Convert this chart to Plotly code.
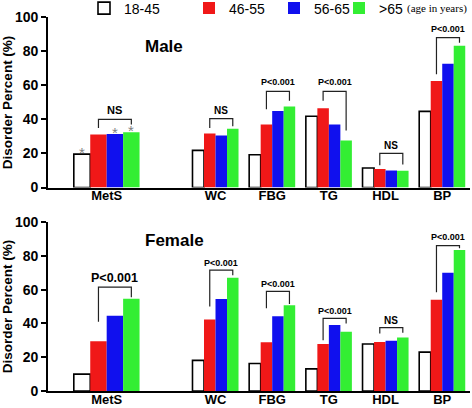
import plotly.graph_objects as go

# ---------------- data ----------------
categories = ["MetS", "WC", "FBG", "TG", "HDL", "BP"]
age_groups = ["18-45", "46-55", "56-65", ">65"]

male_18_45 = [19.6, 21.8, 19.2, 41.9, 11.5, 44.7]
male_46_55 = [31.2, 31.8, 37.0, 46.5, 10.9, 62.5]
male_56_65 = [31.4, 30.6, 44.9, 37.0, 10.0, 72.7]
male_gt65 = [32.5, 34.5, 47.6, 27.6, 9.8, 83.3]

female_18_45 = [10.0, 18.1, 16.3, 13.1, 27.8, 23.0]
female_46_55 = [29.4, 42.3, 28.8, 27.8, 29.0, 54.0]
female_56_65 = [44.5, 54.5, 44.3, 39.1, 29.8, 70.0]
female_gt65 = [54.6, 67.0, 50.7, 35.1, 31.6, 83.5]

male_sig = ["NS", "NS", "P<0.001", "P<0.001", "NS", "P<0.001"]
female_sig = ["P<0.001", "P<0.001", "P<0.001", "P<0.001", "NS", "P<0.001"]

# bracket geometry (top, left leg end, right leg end, label y) in % units
male_brackets = [(40, 35, 37, 45.5), (40.5, 35, 36, 45), (56.5, 46, 51, 62),
                 (56.5, 51, 33.5, 62), (20, 13, 13.5, 24.5), (88, 66.5, 85, 93)]
female_brackets = [(61.5, 41, 55.5, 67), (71.5, 50, 68.5, 76), (59, 49, 51.5, 63.5),
                   (43, 30, 40, 47.5), (37.5, 34, 34.5, 42), (86, 58.5, 84.5, 91)]

# ---------------- style ----------------
colors = ["#ffffff", "#f01818", "#1010ee", "#33ee33"]
cat_pos = [0, 1.92, 2.92, 3.92, 4.92, 5.92]
bar_w = [0.29, 0.203, 0.203, 0.203, 0.203, 0.203]
legend_x_px = [84, 189, 274, 339]
FONT = "Liberation Sans, Arial, sans-serif"

W, H = 472, 408
x_dom = [48.3 / W, 470 / W]
top_dom = [1 - 187.5 / H, 1 - 17.3 / H]
bot_dom = [1 - 391 / H, 1 - 222 / H]

fig = go.Figure()
legend_ids = ["legend", "legend2", "legend3", "legend4"]

panels = [
    ([male_18_45, male_46_55, male_56_65, male_gt65], "x", "y", True),
    ([female_18_45, female_46_55, female_56_65, female_gt65], "x2", "y2", False),
]
for series, xa, ya, show in panels:
    for i, (vals, name, col) in enumerate(zip(series, age_groups, colors)):
        fig.add_trace(go.Bar(
            x=cat_pos, y=vals, width=bar_w,
            offset=[(i - 2) * w for w in bar_w],
            name=name, marker_color=col,
            marker_line_color="#000000" if i == 0 else col,
            marker_line_width=1.6 if i == 0 else 0,
            xaxis=xa, yaxis=ya, showlegend=show, legendgroup=name,
            legend=legend_ids[i],
        ))

shapes = []
annotations = []


def add_brackets(sig, brackets, xref, yref, small_sizes):
    for k, (lab, (top, l_end, r_end, ty)) in enumerate(zip(sig, brackets)):
        w = bar_w[k]
        xl = cat_pos[k] - w / 2
        xr = cat_pos[k] + 1.5 * w
        shapes.append(dict(type="path", xref=xref, yref=yref,
                           path=f"M {xl} {l_end} L {xl} {top} L {xr} {top} L {xr} {r_end}",
                           line=dict(color="#222222", width=1.2)))
        annotations.append(dict(x=(xl + xr) / 2, y=ty, xref=xref, yref=yref,
                                text=f"<b>{lab}</b>", showarrow=False,
                                font=dict(family=FONT, size=small_sizes[k], color="#000"),
                                yanchor="middle"))


add_brackets(male_sig, male_brackets, "x", "y", [11, 10, 9, 9, 10, 9])
add_brackets(female_sig, female_brackets, "x2", "y2", [12.5, 9, 9, 9, 10, 9])

# asterisks on male MetS
for i in [0, 2, 3]:
    series = [male_18_45, male_46_55, male_56_65, male_gt65][i]
    annotations.append(dict(x=cat_pos[0] + (i - 1.5) * bar_w[0], y=series[0],
                            xref="x", yref="y", text="*", showarrow=False,
                            yanchor="bottom", yshift=-9,
                            font=dict(family=FONT, size=15, color="#808080")))

# panel titles
annotations.append(dict(x=164 / W, y=1 - 35 / H, xref="paper", yref="paper",
                        text="<b>Male</b>", showarrow=False,
                        font=dict(family=FONT, size=17, color="#000")))
annotations.append(dict(x=174 / W, y=1 - 240 / H, xref="paper", yref="paper",
                        text="<b>Female</b>", showarrow=False,
                        font=dict(family=FONT, size=17, color="#000")))
# legend note
annotations.append(dict(x=405 / W, y=1 - 8 / H, xref="paper", yref="paper",
                        xanchor="left", yanchor="middle", text="(age in years)",
                        showarrow=False,
                        font=dict(family="Liberation Serif, Times New Roman, serif",
                                  size=11, color="#000")))

xaxis_common = dict(range=[-1.03, 6.41], domain=x_dom, tickvals=cat_pos,
                    ticktext=[f"<b>{c}</b>" for c in categories],
                    showline=True, linecolor="#000", linewidth=2.2,
                    ticks="", showgrid=False, zeroline=False,
                    ticklabelstandoff=-5,
                    tickfont=dict(family=FONT, size=13, color="#000"),
                    automargin=False)
yaxis_common = dict(range=[0, 100], tickvals=[0, 20, 40, 60, 80, 100],
                    ticktext=[f"<b>{v}</b>" for v in [0, 20, 40, 60, 80, 100]],
                    showline=True, linecolor="#000", linewidth=2.2,
                    ticks="outside", ticklen=5, tickwidth=2, tickcolor="#000",
                    showgrid=False, zeroline=False,
                    tickfont=dict(family=FONT, size=14, color="#000"),
                    title=dict(text="<b>Disorder Percent (%)</b>",
                               font=dict(family=FONT, size=13.5, color="#000"),
                               standoff=6),
                    automargin=False)

legend_common = dict(orientation="h", y=1 - 8.5 / H, xanchor="left", yanchor="middle",
                     font=dict(family=FONT, size=14, color="#000"),
                     bgcolor="rgba(0,0,0,0)", itemwidth=30)

fig.update_layout(
    width=W, height=H,
    margin=dict(l=0, r=0, t=0, b=0, autoexpand=False),
    paper_bgcolor="#ffffff", plot_bgcolor="#ffffff",
    barmode="overlay",
    xaxis=dict(**xaxis_common, anchor="y"),
    yaxis=dict(**yaxis_common, domain=top_dom, anchor="x"),
    xaxis2=dict(**xaxis_common, anchor="y2"),
    yaxis2=dict(**yaxis_common, domain=bot_dom, anchor="x2"),
    shapes=shapes, annotations=annotations,
)
for lid, lx in zip(legend_ids, legend_x_px):
    fig.update_layout({lid: dict(**legend_common, x=lx / W)})

fig.write_html("out.html", config={"displayModeBar": False},
               post_script="document.body.style.margin='0';document.body.style.padding='0';")
